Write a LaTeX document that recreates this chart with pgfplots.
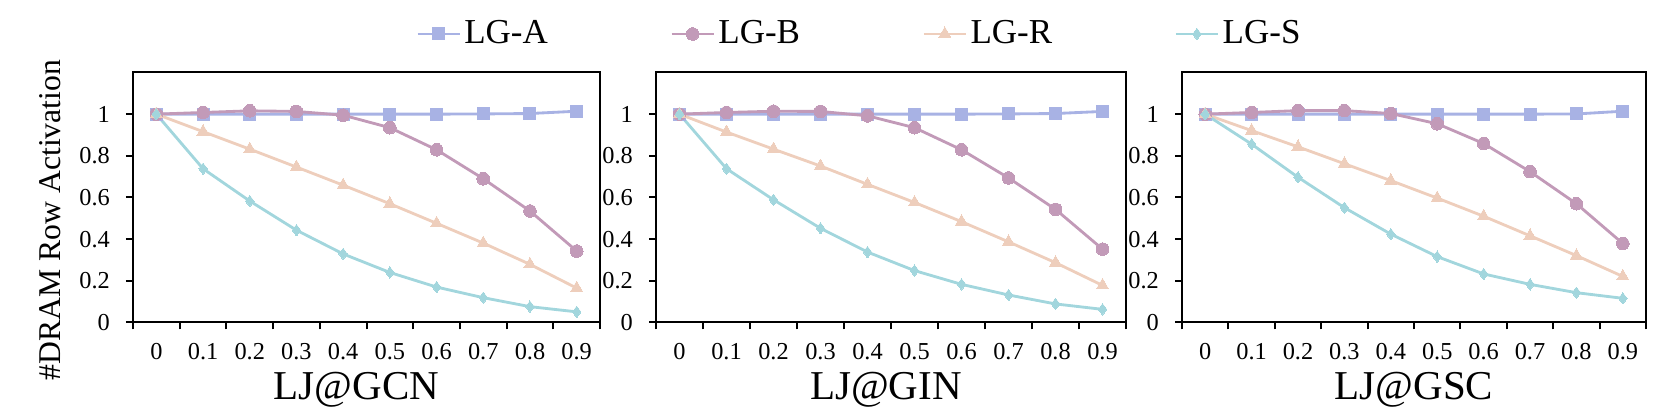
\documentclass[border=0pt]{standalone}
\usepackage{fontspec}
\setmainfont{Liberation Serif}
\usepackage{pgfplots}
\usepackage{pgfplotstable}
\pgfplotsset{compat=1.18}

\definecolor{cA}{RGB}{168,178,228}
\definecolor{cB}{RGB}{194,154,184}
\definecolor{cR}{RGB}{238,206,188}
\definecolor{cS}{RGB}{162,214,221}

% x index, LG-A, LG-B, LG-R, LG-S
\pgfplotstableread{
x A     B     R     S
0 1.000 1.000 1.000 1.000
1 1.000 1.008 0.916 0.738
2 1.000 1.016 0.832 0.583
3 1.000 1.013 0.746 0.443
4 1.000 0.995 0.659 0.329
5 1.000 0.935 0.570 0.240
6 1.000 0.829 0.476 0.170
7 1.001 0.690 0.381 0.119
8 1.003 0.535 0.279 0.076
9 1.014 0.343 0.165 0.051
}\gcn
\pgfplotstableread{
x A     B     R     S
0 1.000 1.000 1.000 1.000
1 1.000 1.008 0.914 0.738
2 1.000 1.014 0.832 0.589
3 1.000 1.013 0.751 0.452
4 1.000 0.992 0.663 0.338
5 1.000 0.935 0.576 0.249
6 1.000 0.829 0.484 0.183
7 1.001 0.694 0.387 0.132
8 1.003 0.543 0.287 0.089
9 1.013 0.352 0.178 0.063
}\gin
\pgfplotstableread{
x A     B     R     S
0 1.000 1.000 1.000 1.000
1 1.000 1.008 0.921 0.856
2 1.000 1.017 0.843 0.697
3 1.000 1.017 0.762 0.551
4 1.000 1.003 0.681 0.424
5 1.000 0.954 0.597 0.316
6 1.000 0.859 0.510 0.233
7 1.000 0.724 0.416 0.183
8 1.001 0.570 0.321 0.143
9 1.014 0.379 0.221 0.116
}\gsc

\pgfplotsset{
  panel/.style={
    scale only axis, height=75pt,
    xmin=-0.5, xmax=9.5, ymin=0, ymax=1.2,
    xtick={0,...,9},
    xticklabels={0,0.1,0.2,0.3,0.4,0.5,0.6,0.7,0.8,0.9},
    minor xtick={-0.5,0.5,...,9.5},
    ytick={0,0.2,0.4,0.6,0.8,1},
    yticklabels={0,0.2,0.4,0.6,0.8,1},
    xtick pos=lower, ytick pos=left,
    tick align=outside,
    major x tick style={draw=none},
    major tick length=2.1pt, minor tick length=2.1pt,
    every tick/.style={black, line width=0.6pt},
    axis line style={line width=0.6pt},
    xticklabel style={font=\fontsize{7.3}{8.5}\selectfont, yshift=-0.6pt},
    yticklabel style={font=\fontsize{7.3}{8.5}\selectfont, xshift=-1.3pt},
    xlabel style={font=\fontsize{12.3}{14}\selectfont,
      at={(axis description cs:0.5,0)}, anchor=base, yshift=-23.2pt},
  },
  sA/.style={color=cA, line width=0.85pt, mark=square*, mark size=1.8pt,
    mark options={solid, fill=cA, draw=cA, line width=0pt}},
  sB/.style={color=cB, line width=0.85pt, mark=*, mark size=1.9pt,
    mark options={solid, fill=cB, draw=cB, line width=0pt}},
  sR/.style={color=cR, line width=0.85pt, mark=triangle*, mark size=2.1pt,
    mark options={solid, fill=cR, draw=cR, line width=0pt}},
  sS/.style={color=cS, line width=0.85pt, mark=diamond*, mark size=1.7pt,
    mark options={solid, fill=cS, draw=cS, line width=0pt}},
}

\begin{document}
\begin{tikzpicture}
\path[use as bounding box] (0,0) rectangle (498.3pt,124.5pt);

\begin{axis}[panel, at={(39.9pt,27.75pt)}, anchor=south west, width=140.1pt,
  xlabel={LJ@GCN},
  xlabel style={xshift=-3pt},
  ylabel={\#DRAM Row Activation},
  ylabel style={font=\fontsize{9.5}{11}\selectfont,
    at={(axis description cs:-0.1777,0.41)}, anchor=center},
]
\addplot[sA] table[x=x, y=A] {\gcn};
\addplot[sB] table[x=x, y=B] {\gcn};
\addplot[sR] table[x=x, y=R] {\gcn};
\addplot[sS] table[x=x, y=S] {\gcn};
\end{axis}

\begin{axis}[panel, at={(196.8pt,27.75pt)}, anchor=south west, width=141pt,
  xlabel={LJ@GIN},
  xlabel style={xshift=-1.5pt},
  legend columns=4,
  legend style={draw=none, fill=none, at={(axis description cs:0.434,1.154)},
    anchor=center, font=\fontsize{10.5}{12}\selectfont,
    /tikz/every even column/.append style={column sep=35.7pt},
    nodes={inner sep=1pt}},
  legend image code/.code={\draw[mark repeat=2, mark phase=2]
    plot coordinates {(0pt,0pt) (6.3pt,0pt) (12.6pt,0pt)};},
]
\addplot[sA] table[x=x, y=A] {\gin};
\addlegendentry{LG-A}
\addplot[sB] table[x=x, y=B] {\gin};
\addlegendentry{LG-B}
\addplot[sR] table[x=x, y=R] {\gin};
\addlegendentry{LG-R}
\addplot[sS] table[x=x, y=S] {\gin};
\addlegendentry{LG-S}
\end{axis}

\begin{axis}[panel, at={(354.6pt,27.75pt)}, anchor=south west, width=139.2pt,
  xlabel={LJ@GSC},
]
\addplot[sA] table[x=x, y=A] {\gsc};
\addplot[sB] table[x=x, y=B] {\gsc};
\addplot[sR] table[x=x, y=R] {\gsc};
\addplot[sS] table[x=x, y=S] {\gsc};
\end{axis}
\end{tikzpicture}
\end{document}
